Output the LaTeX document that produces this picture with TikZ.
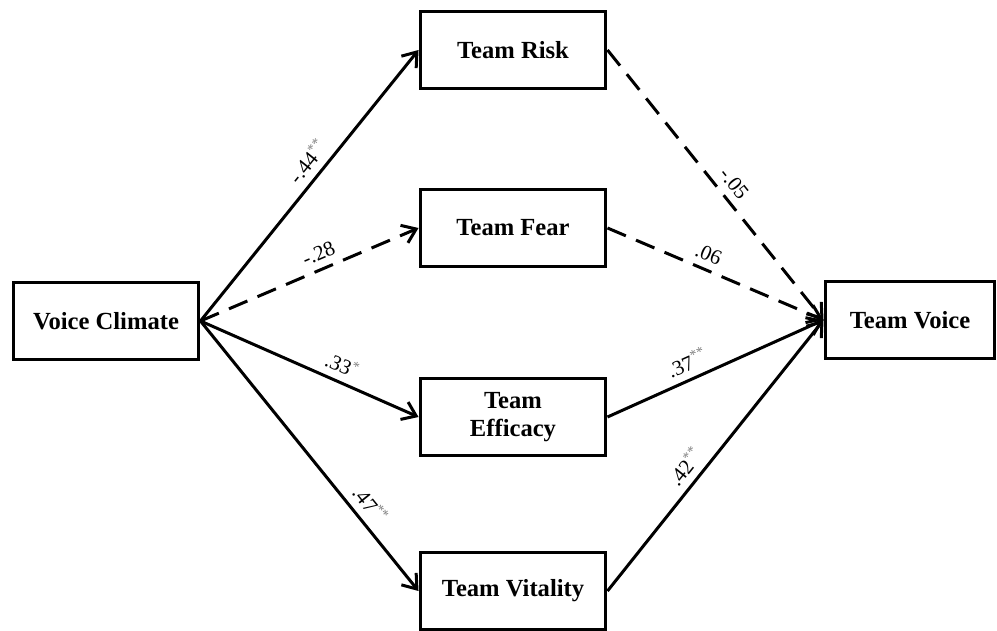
\documentclass[tikz,border=0pt]{standalone}
\usepackage{fontspec}
\setmainfont{Liberation Serif}
\usetikzlibrary{arrows.meta}

\tikzset{
  box/.style={draw, line width=0.06cm, minimum width=3.72cm, minimum height=1.56cm,
    inner sep=0pt, align=center, font=\bfseries\fontsize{14}{16}\selectfont},
  link/.style={line width=0.06cm,
    -{Straight Barb[length=0.26cm, width=0.38cm, line width=0.06cm]}},
  dashlink/.style={link, dash pattern=on 0.4cm off 0.22cm},
  coef/.style={sloped, above, inner sep=4pt, font=\fontsize{12}{14}\selectfont}
}
\newcommand{\sig}[1]{\textsuperscript{\color{gray}#1}}

\begin{document}
\begin{tikzpicture}[x=0.02cm, y=-0.02cm]

   \useasboundingbox (0,0) rectangle (997,631);

   \node (VoiceClimate) at (106,321) [box] {Voice Climate};

   \node (TeamRisk) at (513,50) [box] {Team Risk};
   \node (TeamFear) at (513,228) [box] {Team Fear};
   \node (TeamEfficacy) at (513,417) [box] {Team\\Efficacy};
   \node (TeamVitality) at (513,591) [box] {Team Vitality};

   \node (TeamVoice) at (910,320) [box, minimum width=3.4cm] {Team Voice};

   \draw [link] (VoiceClimate.east) -- node [coef, pos=0.55] {-.44\sig{**}} (TeamRisk.west);
   \draw [dashlink] (VoiceClimate.east) -- node [coef, pos=0.57] {-.28} (TeamFear.west);
   \draw [link] (VoiceClimate.east) -- node [coef, pos=0.62] {.33\sig{*}} (TeamEfficacy.west);
   \draw [link] (VoiceClimate.east) -- node [coef, pos=0.72] {.47\sig{**}} (TeamVitality.west);

   \draw [dashlink] (TeamRisk.east) -- node [coef, pos=0.53] {-.05} (TeamVoice.west);
   \draw [dashlink] (TeamFear.east) -- node [coef, pos=0.44] {.06} (TeamVoice.west);
   \draw [link] (TeamEfficacy.east) -- node [coef, pos=0.40] {.37\sig{**}} (TeamVoice.west);
   \draw [link] (TeamVitality.east) -- node [coef, pos=0.42] {.42\sig{**}} (TeamVoice.west);

\end{tikzpicture}
\end{document}
